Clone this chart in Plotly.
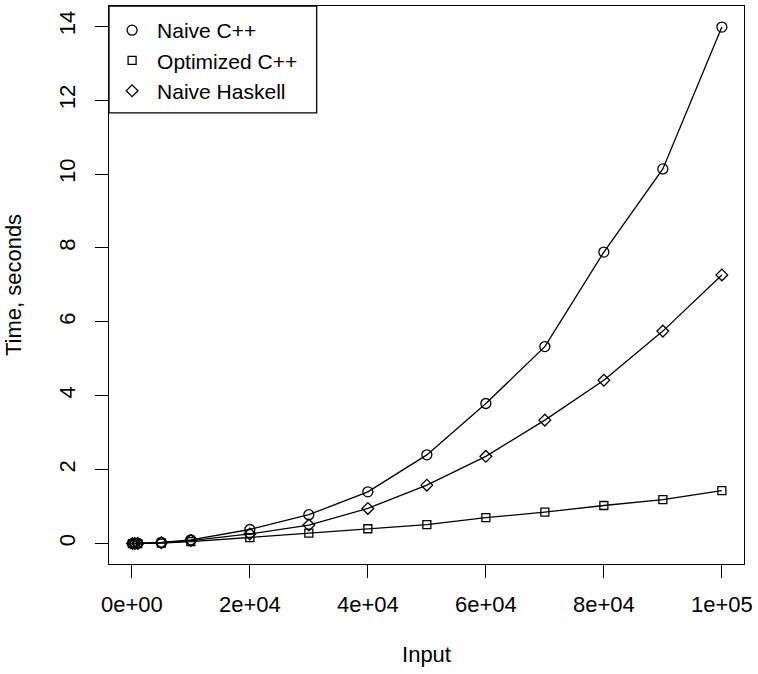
import plotly.graph_objects as go

# Data
input_sizes = [100, 500, 1000, 5000, 10000, 20000, 30000, 40000, 50000,
               60000, 70000, 80000, 90000, 100000]
naive_cpp = [0.0, 0.0, 0.01, 0.03, 0.10, 0.38, 0.78, 1.40, 2.40,
             3.79, 5.33, 7.89, 10.14, 13.98]
optimized_cpp = [0.0, 0.0, 0.0, 0.01, 0.05, 0.16, 0.28, 0.40, 0.51,
                 0.70, 0.85, 1.03, 1.19, 1.43]
naive_haskell = [0.0, 0.0, 0.0, 0.02, 0.08, 0.26, 0.50, 0.95, 1.58,
                 2.36, 3.34, 4.42, 5.75, 7.27]

series_names = ["Naive C++", "Optimized C++", "Naive Haskell"]
series_values = [naive_cpp, optimized_cpp, naive_haskell]
symbols = ["circle-open", "square-open", "diamond-open"]
sizes = [10, 8, 9]

x_tickvals = [0, 20000, 40000, 60000, 80000, 100000]
x_ticktext = ["0e+00", "2e+04", "4e+04", "6e+04", "8e+04", "1e+05"]
y_tickvals = [0, 2, 4, 6, 8, 10, 12, 14]

FONT = "Liberation Sans, Arial, Helvetica, sans-serif"

fig = go.Figure()
for name, vals, sym, sz in zip(series_names, series_values, symbols, sizes):
    fig.add_trace(go.Scatter(
        x=input_sizes, y=vals, mode="lines+markers", name=name,
        line=dict(color="black", width=1.3),
        marker=dict(symbol=sym, size=sz, color="black",
                    line=dict(color="black", width=1.3)),
        showlegend=False,
    ))
# legend-only entries (marker only, as in R legend)
for name, sym, sz in zip(series_names, symbols, sizes):
    fig.add_trace(go.Scatter(
        x=[None], y=[None], mode="markers", name=name,
        marker=dict(symbol=sym, size=sz, color="black",
                    line=dict(color="black", width=1.3)),
    ))

fig.update_layout(
    width=758, height=674,
    margin=dict(l=109, r=10, t=5, b=110),
    paper_bgcolor="white", plot_bgcolor="white",
    font=dict(family=FONT, size=22, color="black"),
    showlegend=True,
    legend=dict(x=-0.003, y=1.0 - 4 / 559, xanchor="left", yanchor="top",
                bgcolor="rgba(0,0,0,0)", borderwidth=0,
                font=dict(size=21), tracegroupgap=0,
                itemsizing="trace", itemwidth=40),
    shapes=[dict(type="rect", xref="paper", yref="paper",
                 x0=0, x1=(318 - 109) / 639, y0=1 - (112 - 5) / 559, y1=1,
                 line=dict(color="black", width=1.3), fillcolor="rgba(0,0,0,0)")],
)
fig.update_xaxes(
    range=[-3872, 103754], tickmode="array", tickvals=x_tickvals,
    ticktext=x_ticktext, ticks="outside", ticklen=13, tickwidth=1.3,
    tickcolor="black", showline=True, mirror=True, linecolor="black",
    linewidth=1.3, showgrid=False, zeroline=False, ticklabelstandoff=7,
    tickfont=dict(size=22),
    title=dict(text="Input", font=dict(size=22), standoff=31),
)
fig.update_yaxes(
    range=[-0.554, 14.55], tickmode="array", tickvals=y_tickvals,
    ticks="outside", ticklen=13, tickwidth=1.3, tickcolor="black",
    showline=True, mirror=True, linecolor="black", linewidth=1.3,
    showgrid=False, zeroline=False, tickangle=-90, ticklabelstandoff=11,
    tickfont=dict(size=22),
    title=dict(text="Time, seconds", font=dict(size=22), standoff=27),
)

fig.write_html("out.html")
